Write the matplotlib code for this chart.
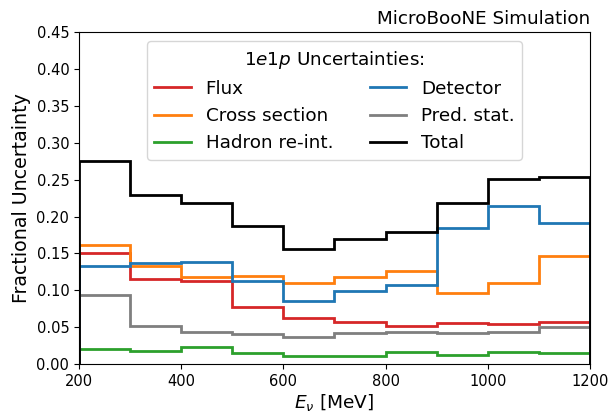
import numpy as np
import matplotlib.pyplot as plt

# bin edges in MeV
bin_edges = [200, 300, 400, 500, 600, 700, 800, 900, 1000, 1100, 1200]

flux = [0.151, 0.115, 0.113, 0.078, 0.062, 0.057, 0.052, 0.056, 0.055, 0.057]
xsec = [0.162, 0.133, 0.118, 0.120, 0.110, 0.118, 0.126, 0.097, 0.110, 0.146]
hadron = [0.021, 0.018, 0.023, 0.015, 0.011, 0.011, 0.016, 0.012, 0.017, 0.015]
detector = [0.133, 0.137, 0.138, 0.113, 0.085, 0.099, 0.107, 0.184, 0.214, 0.191]
pred_stat = [0.093, 0.051, 0.043, 0.041, 0.037, 0.042, 0.044, 0.042, 0.043, 0.050]
total = [0.275, 0.229, 0.218, 0.187, 0.156, 0.169, 0.179, 0.219, 0.251, 0.253]

plt.rcParams['font.size'] = 13

fig, ax = plt.subplots(figsize=(6.1, 4.18), dpi=100)

series = [
    (flux, "Flux", "tab:red"),
    (xsec, "Cross section", "tab:orange"),
    (hadron, "Hadron re-int.", "tab:green"),
    (detector, "Detector", "tab:blue"),
    (pred_stat, "Pred. stat.", "tab:gray"),
    (total, "Total", "black"),
]
for vals, label, color in series:
    ax.stairs(vals, bin_edges, color=color, lw=2, label=label)

ax.set_xlim(200, 1200)
ax.set_ylim(0, 0.45)
ax.set_yticks(np.arange(0, 0.451, 0.05))
ax.tick_params(labelsize=10.5)
ax.set_xlabel(r"$E_\nu$ [MeV]", fontsize=13.3, labelpad=2)
ax.set_ylabel("Fractional Uncertainty", fontsize=13.7)
ax.set_title("MicroBooNE Simulation", loc="right", fontsize=13.2)
ax.legend(ncol=2, loc="upper center", title=r"1$e$1$p$ Uncertainties:",
          title_fontsize=13.2, fontsize=13.2)

fig.subplots_adjust(left=0.1295, right=0.967, top=0.923, bottom=0.129)
fig.savefig("out.png", dpi=100)
